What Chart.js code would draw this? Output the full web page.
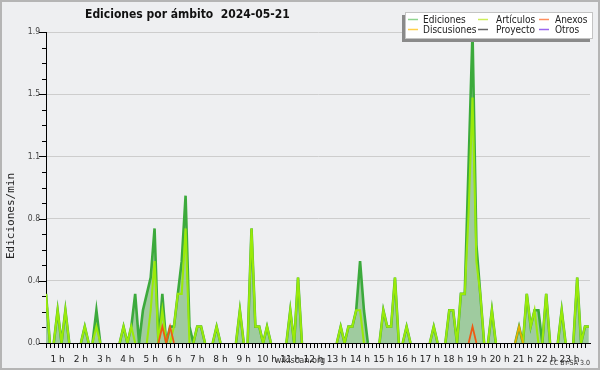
<!DOCTYPE html>
<html>
<head>
<meta charset="utf-8">
<script src="https://cdn.jsdelivr.net/npm/chart.js@4.4.1/dist/chart.umd.min.js"></script>
<style>
  html, body { margin: 0; padding: 0; background: #eeeff1; }
  canvas { display: block; }
</style>
</head>
<body>
<canvas id="chart" width="600" height="370"></canvas>
<script>
// edits per minute, 10 minute buckets; first bucket is 00:30 (slot 3)
const firstSlot = 3;
const hourLabels = ['1 h','2 h','3 h','4 h','5 h','6 h','7 h','8 h','9 h','10 h','11 h','12 h',
  '13 h','14 h','15 h','16 h','17 h','18 h','19 h','20 h','21 h','22 h','23 h'];
const seriesNames = ['Ediciones', 'Artículos', 'Anexos', 'Discusiones', 'Proyecto', 'Otros'];

const ediciones = [
  0.3, 0, 0,
  0.2, 0, 0.2, 0, 0, 0,        // 1 h
  0, 0.1, 0, 0, 0.2, 0,        // 2 h
  0, 0, 0, 0, 0, 0.1,          // 3 h
  0, 0.1, 0.3, 0, 0.2, 0.3,    // 4 h
  0.4, 0.7, 0, 0.3, 0, 0.1,    // 5 h
  0.1, 0.3, 0.5, 0.9, 0.1, 0,  // 6 h
  0.1, 0.1, 0, 0, 0, 0.1,      // 7 h
  0, 0, 0, 0, 0, 0.2,          // 8 h
  0, 0, 0.7, 0.1, 0.1, 0,      // 9 h
  0.1, 0, 0, 0, 0, 0,          // 10 h
  0.2, 0, 0.4, 0, 0, 0,        // 11 h
  0, 0, 0, 0, 0, 0,            // 12 h
  0, 0.1, 0, 0.1, 0.1, 0.2,    // 13 h
  0.5, 0.2, 0, 0, 0, 0,        // 14 h
  0.2, 0.1, 0.1, 0.4, 0, 0,    // 15 h
  0.1, 0, 0, 0, 0, 0,          // 16 h
  0, 0.1, 0, 0, 0, 0.2,        // 17 h
  0.2, 0, 0.3, 0.3, 1.1, 1.9,  // 18 h
  0.6, 0.3, 0, 0, 0.2, 0,      // 19 h
  0, 0, 0, 0, 0, 0.1,          // 20 h
  0, 0.3, 0.1, 0.2, 0.2, 0,    // 21 h
  0.3, 0, 0, 0, 0.2, 0,        // 22 h
  0, 0, 0.4, 0, 0.1, 0.1       // 23 h
];

const articulos = [
  0.3, 0, 0,
  0.2, 0, 0.2, 0, 0, 0,
  0, 0.1, 0, 0, 0.1, 0,
  0, 0, 0, 0, 0, 0.1,
  0, 0.1, 0, 0, 0, 0,
  0.2, 0.5, 0, 0.2, 0, 0,
  0.1, 0.3, 0.3, 0.7, 0, 0,
  0.1, 0.1, 0, 0, 0, 0.1,
  0, 0, 0, 0, 0, 0.2,
  0, 0, 0.7, 0.1, 0.1, 0,
  0.1, 0, 0, 0, 0, 0,
  0.2, 0, 0.4, 0, 0, 0,
  0, 0, 0, 0, 0, 0,
  0, 0.1, 0, 0.1, 0.1, 0.2,
  0.2, 0, 0, 0, 0, 0,
  0.2, 0.1, 0.1, 0.4, 0, 0,
  0.1, 0, 0, 0, 0, 0,
  0, 0.1, 0, 0, 0, 0.2,
  0.2, 0, 0.3, 0.3, 0.8, 1.5,
  0.5, 0.3, 0, 0, 0.2, 0,
  0, 0, 0, 0, 0, 0,
  0, 0.3, 0.1, 0.2, 0, 0,
  0.3, 0, 0, 0, 0.2, 0,
  0, 0, 0.4, 0, 0.1, 0.1
];

const anexos = [
  0, 0, 0,
  0, 0, 0, 0, 0, 0,
  0, 0, 0, 0, 0, 0,
  0, 0, 0, 0, 0, 0,
  0, 0, 0, 0, 0, 0,
  0, 0, 0, 0.1, 0, 0.1,
  0, 0, 0, 0, 0, 0,
  0, 0, 0, 0, 0, 0,
  0, 0, 0, 0, 0, 0,
  0, 0, 0, 0, 0, 0,
  0, 0, 0, 0, 0, 0,
  0, 0, 0, 0, 0, 0,
  0, 0, 0, 0, 0, 0,
  0, 0, 0, 0, 0, 0,
  0, 0, 0, 0, 0, 0,
  0, 0, 0, 0, 0, 0,
  0, 0, 0, 0, 0, 0,
  0, 0, 0, 0, 0, 0,
  0, 0, 0, 0, 0, 0.1,
  0, 0, 0, 0, 0, 0,
  0, 0, 0, 0, 0, 0,
  0, 0, 0, 0, 0, 0,
  0, 0, 0, 0, 0, 0,
  0, 0, 0, 0, 0, 0
];

const discusiones = [
  0, 0, 0,
  0, 0, 0, 0, 0, 0,
  0, 0, 0, 0, 0, 0,
  0, 0, 0, 0, 0, 0,
  0, 0, 0, 0, 0, 0,
  0, 0, 0, 0, 0, 0,
  0, 0, 0, 0, 0, 0,
  0, 0, 0, 0, 0, 0,
  0, 0, 0, 0, 0, 0,
  0, 0, 0, 0, 0, 0,
  0, 0, 0, 0, 0, 0,
  0, 0, 0, 0, 0, 0,
  0, 0, 0, 0, 0, 0,
  0, 0, 0, 0, 0, 0,
  0, 0, 0, 0, 0, 0,
  0, 0, 0, 0, 0, 0,
  0, 0, 0, 0, 0, 0,
  0, 0, 0, 0, 0, 0,
  0, 0, 0, 0, 0, 0,
  0, 0, 0, 0, 0, 0,
  0, 0, 0, 0, 0, 0.1,
  0, 0, 0, 0, 0, 0,
  0, 0, 0, 0, 0, 0,
  0, 0, 0, 0, 0, 0
];

const legendColors = ['#8fd48f', '#cdee5a', '#ff8f5e', '#ffd04a', '#666666', '#9a66ee'];

const toPoints = vals => vals.map((v, i) => ({ x: firstSlot + i, y: v }));
// hide the flat runs along the baseline, the axis line sits there
const hideZero = ctx => (ctx.p0.parsed.y === 0 && ctx.p1.parsed.y === 0) ? 'rgba(0,0,0,0)' : undefined;

const condensed = '"DejaVu Sans Condensed", "DejaVu Sans", sans-serif';

const background = {
  id: 'background',
  beforeDraw(chart) {
    const ctx = chart.ctx;
    ctx.save();
    ctx.fillStyle = '#eeeff1';
    ctx.fillRect(0, 0, chart.width, chart.height);
    ctx.strokeStyle = '#b5b5b5';
    ctx.lineWidth = 2;
    ctx.strokeRect(1, 1, chart.width - 2, chart.height - 2);
    ctx.restore();
  }
};

const tickMarks = {
  id: 'tickMarks',
  afterDraw(chart) {
    const { ctx, chartArea: a } = chart;
    const { x, y } = chart.scales;
    ctx.save();
    ctx.strokeStyle = '#000';
    ctx.lineWidth = 1;
    ctx.beginPath();
    y.ticks.forEach((t, i) => {
      const py = Math.round(y.getPixelForValue(t.value)) + 0.5;
      const len = i % 4 === 0 ? 7 : 4;
      ctx.moveTo(a.left - len, py);
      ctx.lineTo(a.left, py);
    });
    x.ticks.forEach(t => {
      if (!Number.isInteger(t.value)) return;
      const px = Math.round(x.getPixelForValue(t.value)) + 0.5;
      ctx.moveTo(px, a.bottom);
      ctx.lineTo(px, a.bottom + 5);
    });
    ctx.stroke();
    ctx.restore();
  }
};

const texts = {
  id: 'texts',
  afterDraw(chart) {
    const ctx = chart.ctx;
    ctx.save();
    // title
    ctx.fillStyle = '#111';
    ctx.font = 'bold 12px ' + condensed;
    ctx.textAlign = 'left';
    ctx.textBaseline = 'alphabetic';
    ctx.fillText('Ediciones por ámbito  2024-05-21', 85, 18);

    // y title
    ctx.save();
    ctx.translate(14, 216);
    ctx.rotate(-Math.PI / 2);
    ctx.textAlign = 'center';
    ctx.font = '11px "DejaVu Sans Mono", monospace';
    ctx.fillStyle = '#222';
    ctx.fillText('Ediciones/min', 0, 0);
    ctx.restore();

    // footer
    ctx.fillStyle = '#333';
    ctx.font = '9px ' + condensed;
    ctx.textAlign = 'center';
    ctx.fillText('wikiscan.org', 300, 363);
    ctx.font = '7px ' + condensed;
    ctx.textAlign = 'right';
    ctx.fillText('CC BY-SA 3.0', 590, 365);

    // legend
    ctx.fillStyle = '#8a8a8a';
    ctx.fillRect(402, 15, 188, 27);
    ctx.fillStyle = '#ffffff';
    ctx.fillRect(405, 12, 188, 27);
    ctx.strokeStyle = '#c4c4c4';
    ctx.lineWidth = 1;
    ctx.strokeRect(405.5, 12.5, 187, 26);
    const swatchX = [408, 478, 539];
    const textX = [423, 496, 555];
    ctx.font = '10px ' + condensed;
    ctx.textAlign = 'left';
    seriesNames.forEach((name, k) => {
      const col = k % 3, row = Math.floor(k / 3);
      const ly = 19.5 + row * 10;
      ctx.strokeStyle = legendColors[k];
      ctx.lineWidth = 1.5;
      ctx.beginPath();
      ctx.moveTo(swatchX[col], ly);
      ctx.lineTo(swatchX[col] + 10, ly);
      ctx.stroke();
      ctx.fillStyle = '#222';
      ctx.fillText(name, textX[col], ly + 3.5);
    });
    ctx.restore();
  }
};

new Chart(document.getElementById('chart').getContext('2d'), {
  type: 'line',
  data: {
    datasets: [
      { label: seriesNames[0], data: toPoints(ediciones), borderColor: '#3caa3c', borderWidth: 2.6,
        backgroundColor: '#9fcb9f', fill: 'origin', order: 4, segment: { borderColor: hideZero } },
      { label: seriesNames[1], data: toPoints(articulos), borderColor: '#9aea0a', borderWidth: 2.1,
        fill: false, order: 3, segment: { borderColor: hideZero } },
      { label: seriesNames[3], data: toPoints(discusiones), borderColor: '#e8b000', borderWidth: 1.8,
        fill: false, order: 2, segment: { borderColor: hideZero } },
      { label: seriesNames[2], data: toPoints(anexos), borderColor: '#ee5a14', borderWidth: 1.8,
        fill: false, order: 1, segment: { borderColor: hideZero } }
    ]
  },
  options: {
    responsive: false,
    animation: false,
    devicePixelRatio: 1,
    elements: { point: { radius: 0 }, line: { tension: 0 } },
    layout: { padding: { top: 32, right: 10, bottom: 0, left: 0 } },
    plugins: { legend: { display: false }, tooltip: { enabled: false } },
    scales: {
      x: {
        type: 'linear', min: 3, max: 143.3, z: 1,
        grid: { display: false },
        border: { display: true, color: '#000', width: 1 },
        ticks: {
          stepSize: 1, autoSkip: false, maxRotation: 0, padding: 3,
          color: '#222', font: { family: 'DejaVu Sans', size: 9 },
          callback: v => (v % 6 === 0 ? hourLabels[v / 6 - 1] : '')
        },
        afterFit: s => { s.height = 27; }
      },
      y: {
        min: 0, max: 1.9, z: 1,
        grid: { color: c => (c.index % 4 === 0 ? '#cdcdcd' : 'rgba(0,0,0,0)'), drawTicks: false },
        border: { display: true, color: '#000', width: 1 },
        ticks: {
          stepSize: 0.095, autoSkip: false, padding: 6,
          color: '#444', font: { family: 'DejaVu Sans Condensed, DejaVu Sans', size: 8.5 },
          callback: (v, i) => (i % 4 === 0 ? v.toFixed(1) : '')
        },
        afterFit: s => { s.width = 46; }
      }
    }
  },
  plugins: [background, tickMarks, texts]
});
</script>
</body>
</html>
